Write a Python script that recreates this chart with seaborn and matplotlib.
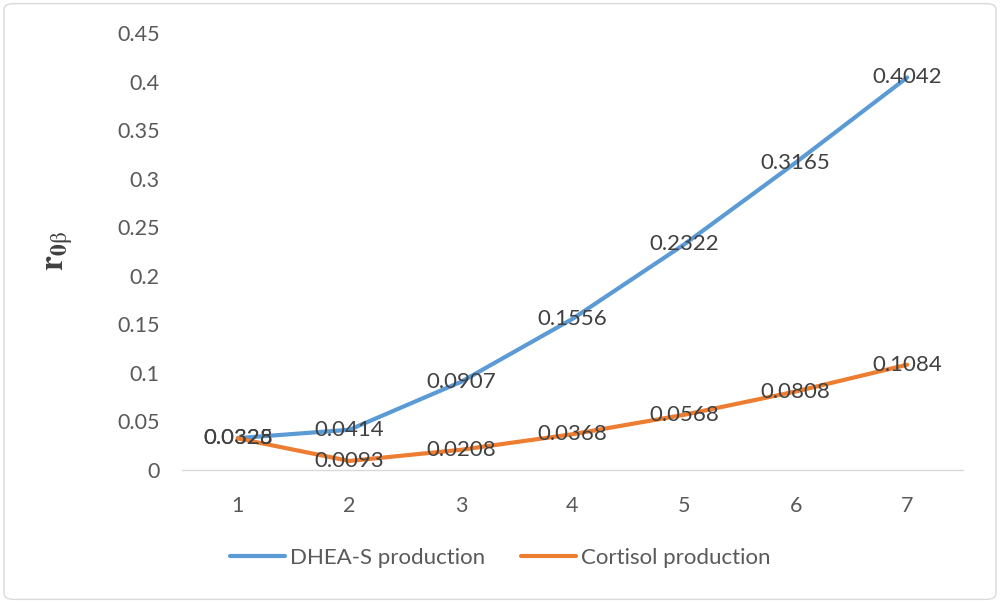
import pandas as pd
import seaborn as sns
import matplotlib.pyplot as plt
from matplotlib.patches import FancyBboxPatch

# ----------------------------------------
# DATA
# ----------------------------------------
steps = [1, 2, 3, 4, 5, 6, 7]
dhea_s = [0.0328, 0.0414, 0.0907, 0.1556, 0.2322, 0.3165, 0.4042]
cortisol = [0.0325, 0.0093, 0.0208, 0.0368, 0.0568, 0.0808, 0.1084]
y_ticks = [0, 0.05, 0.1, 0.15, 0.2, 0.25, 0.3, 0.35, 0.4, 0.45]
y_tick_labels = ["0", "0.05", "0.1", "0.15", "0.2", "0.25", "0.3", "0.35", "0.4", "0.45"]

df = pd.DataFrame({
    "step": steps * 2,
    "value": dhea_s + cortisol,
    "series": ["DHEA-S production"] * 7 + ["Cortisol production"] * 7,
})

sns.set_style("white")
plt.rcParams["font.family"] = ["Lato", "DejaVu Sans"]
plt.rcParams["mathtext.fontset"] = "stix"

fig = plt.figure(figsize=(10, 6.03), dpi=100)
ax = fig.add_axes([0.182, 0.2206, 0.781, 0.7247])

palette = {"DHEA-S production": "#5B9BD5", "Cortisol production": "#ED7D31"}
sns.lineplot(data=df, x="step", y="value", hue="series", palette=palette,
             linewidth=3, ax=ax, legend=True)

# data labels centred on the points
for vals in (dhea_s, cortisol):
    for x, v in zip(steps, vals):
        ax.text(x, v, f"{v:.4f}", ha="center", va="center",
                fontsize=16, color="#404040")

ax.set_xlim(0.5, 7.5)
ax.set_ylim(0, 0.45)
ax.set_xticks(steps)
ax.set_yticks(y_ticks)
ax.set_yticklabels(y_tick_labels)
ax.tick_params(axis="both", labelsize=15.5, labelcolor="#595959", length=0)
ax.tick_params(axis="y", pad=16)
ax.tick_params(axis="x", pad=19)
for side in ("top", "right", "left"):
    ax.spines[side].set_visible(False)
ax.spines["bottom"].set_color("#D9D9D9")
ax.spines["bottom"].set_linewidth(1)
ax.set_xlabel("")
ax.set_ylabel(r"$\mathbf{r}_{\mathbf{0}\mathrm{\beta}}$", fontsize=24,
              labelpad=30, color="#404040")

leg = ax.legend(loc="center", bbox_to_anchor=(0.5, 0.075), bbox_transform=fig.transFigure,
                ncol=2, frameon=False, fontsize=16, handlelength=2.5,
                columnspacing=1.6, handletextpad=0.2)
for line in leg.get_lines():
    line.set_linewidth(3)
for t in leg.get_texts():
    t.set_color("#595959")

# outer frame
fig.patches.append(FancyBboxPatch((0.004, 0.006), 0.992, 0.988,
                                  boxstyle="round,pad=0,rounding_size=0.01",
                                  transform=fig.transFigure, fill=False,
                                  edgecolor="#D9D9D9", linewidth=1))

fig.savefig("out.png", dpi=100)
